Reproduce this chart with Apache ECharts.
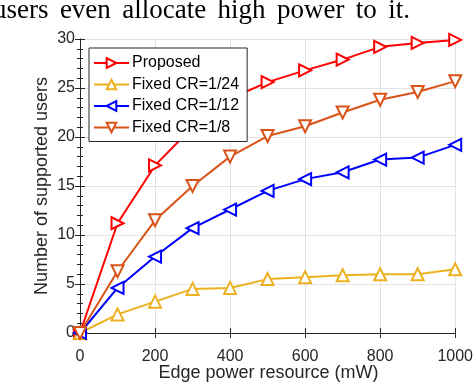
<!DOCTYPE html>
<html>
<head>
<meta charset="utf-8">
<script src="https://cdn.jsdelivr.net/npm/echarts@6/dist/echarts.min.js"></script>
<style>html,body{margin:0;padding:0;background:#fff}#c{width:476px;height:384px}</style>
</head>
<body>
<div id="c"></div>
<script>
const powers = [0, 100, 200, 300, 400, 500, 600, 700, 800, 900, 1000];
const proposed = [0, 11.2, 17.1, 21.0, 23.9, 25.6, 26.8, 27.9, 29.2, 29.6, 29.9];
const cr24 = [0, 1.9, 3.2, 4.5, 4.6, 5.5, 5.7, 5.9, 6.0, 6.0, 6.5];
const cr12 = [0, 4.6, 7.8, 10.7, 12.6, 14.5, 15.7, 16.4, 17.7, 17.9, 19.2];
const cr8 = [0, 6.3, 11.5, 15.0, 18.0, 20.1, 21.1, 22.5, 23.8, 24.6, 25.7];
const seriesNames = ['Proposed', 'Fixed CR=1/24', 'Fixed CR=1/12', 'Fixed CR=1/8'];
const xTicks = [0, 200, 400, 600, 800, 1000];
const yTicks = [0, 5, 10, 15, 20, 25, 30];
const xTitle = 'Edge power resource (mW)';
const yTitle = 'Number of supported users';
const topWords = ['users', 'even', 'allocate', 'high', 'power', 'to', 'it.'];

const axisCol = '#262626';
const font = 'Liberation Sans, Arial, sans-serif';
const serifFont = '27px "Liberation Serif", "Times New Roman", serif';
const titleFont = '18px "Liberation Sans", Arial, sans-serif';

// justified line of the surrounding paper text (layout only)
const mctx = document.createElement('canvas').getContext('2d');
mctx.font = serifFont;
const wWidths = topWords.map(w => mctx.measureText(w).width);
const lineStart = -7, lineEnd = 410;
const gap = (lineEnd - lineStart - wWidths.reduce((a, b) => a + b, 0)) / (topWords.length - 1);
const wordLeft = [];
let acc = lineStart;
wWidths.forEach(w => { wordLeft.push(acc); acc += w + gap; });

function mk(name, vals, color, rot) {
  return {
    name: name, type: 'line',
    data: powers.map((p, i) => [p, vals[i]]),
    symbol: 'emptyTriangle', symbolSize: 12, symbolRotate: rot,
    lineStyle: {color: color, width: 2},
    itemStyle: {color: color, borderWidth: 1.8},
    emphasis: {disabled: true},
    animation: false
  };
}
const baseAxis = {
  axisLine: {show: true, lineStyle: {color: axisCol, width: 1}},
  axisTick: {show: true, inside: true, length: 5, lineStyle: {color: axisCol}},
  axisLabel: {color: axisCol, fontFamily: font, fontSize: 16},
};
const chart = echarts.init(document.getElementById('c'), null, {renderer: 'canvas'});
chart.setOption({
  backgroundColor: '#fff',
  animation: false,
  grid: {left: 80, top: 39, width: 377, height: 294, containLabel: false},
  graphic: topWords.map((w, i) => ({
    type: 'text', x: wordLeft[i], y: -3,
    style: {text: w, font: serifFont, fill: '#000', align: 'left', verticalAlign: 'top'}
  })).concat([
    {type: 'text', x: 268.5, y: 373.5,
     style: {text: xTitle, font: titleFont, fill: axisCol, align: 'center', verticalAlign: 'middle'}},
    {type: 'text', x: 42, y: 186, rotation: Math.PI / 2,
     style: {text: yTitle, font: titleFont, fill: axisCol, align: 'center', verticalAlign: 'middle'}}
  ]),
  legend: {
    data: seriesNames, orient: 'vertical', left: 89, top: 48,
    width: 157,
    padding: [7, 8, 6, 4], itemGap: 5.5, itemWidth: 35, itemHeight: 12,
    borderColor: axisCol, borderWidth: 1, backgroundColor: '#fff',
    textStyle: {fontFamily: font, fontSize: 16, color: '#000', padding: [0, 0, 0, -2]},
    selectedMode: false
  },
  xAxis: [
    Object.assign({}, baseAxis, {
      type: 'value', min: 0, max: 1000, interval: 200, position: 'bottom',
      axisLabel: Object.assign({}, baseAxis.axisLabel, {margin: 16, formatter: v => xTicks.includes(v) ? String(v) : ''}),
      splitLine: {show: true, lineStyle: {color: '#e3e3e3', width: 1}}
    }),
    Object.assign({}, baseAxis, {
      type: 'value', min: 0, max: 1000, interval: 200, position: 'top',
      axisLabel: {show: false}, splitLine: {show: false}
    })
  ],
  yAxis: [
    Object.assign({}, baseAxis, {
      type: 'value', min: 0, max: 30, interval: 5, position: 'left',
      axisLabel: Object.assign({}, baseAxis.axisLabel, {margin: 5, formatter: v => yTicks.includes(v) ? String(v) : ''}),
      minorTick: {show: true, splitNumber: 5, length: 3, lineStyle: {color: axisCol}},
      splitLine: {show: true, lineStyle: {color: '#e3e3e3', width: 1}}
    }),
    Object.assign({}, baseAxis, {
      type: 'value', min: 0, max: 30, interval: 5, position: 'right',
      axisLabel: {show: false}, splitLine: {show: false},
      minorTick: {show: true, splitNumber: 5, length: 3, lineStyle: {color: axisCol}}
    })
  ],
  series: [
    mk(seriesNames[0], proposed, '#FF0000', -90),
    mk(seriesNames[1], cr24, '#EDB120', 0),
    mk(seriesNames[2], cr12, '#0000FF', 90),
    mk(seriesNames[3], cr8, '#D95319', 180)
  ]
});
</script>
</body>
</html>
